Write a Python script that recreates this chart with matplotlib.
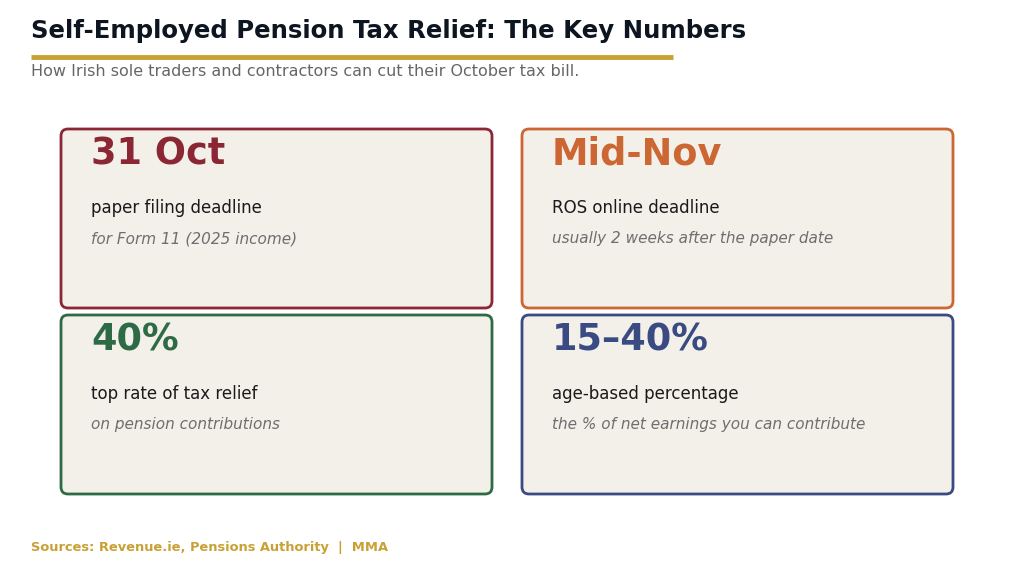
import matplotlib
matplotlib.use("Agg")
import matplotlib.pyplot as plt
from matplotlib.patches import FancyBboxPatch

plt.rcParams['font.family'] = ['DejaVu Sans']

# Contenido de las tarjetas
big_values = ["31 Oct", "Mid-Nov", "40%", "15\u201340%"]
labels = ["paper filing deadline", "ROS online deadline",
          "top rate of tax relief", "age-based percentage"]
notes = ["for Form 11 (2025 income)", "usually 2 weeks after the paper date",
         "on pension contributions", "the % of net earnings you can contribute"]
colors = ["#8B2635", "#CC6633", "#2D6A45", "#3A4A82"]

title = "Self-Employed Pension Tax Relief: The Key Numbers"
subtitle = "How Irish sole traders and contractors can cut their October tax bill."
footer = "Sources: Revenue.ie, Pensions Authority  |  MMA"

gold = "#C9A033"

fig = plt.figure(figsize=(10.24, 5.84), dpi=100)
ax = fig.add_axes([0, 0, 1, 1])
ax.set_xlim(0, 1024)
ax.set_ylim(584, 0)
ax.axis("off")

# Cabecera
ax.text(31, 31, title, fontsize=17.6, fontweight="bold", color="#0D1520",
        va="center", ha="left")
ax.plot([31, 673], [57, 57], color=gold, lw=3.5, solid_capstyle="butt")
ax.text(31, 71, subtitle, fontsize=11.5, color="#666666", va="center", ha="left")

# Tarjetas 2x2
card_x = [61, 522]
card_y = [129, 315]
card_w, card_h = 431, 179
for i in range(4):
    x0 = card_x[i % 2]
    y0 = card_y[i // 2]
    box = FancyBboxPatch((x0, y0), card_w, card_h,
                         boxstyle="round,pad=0,rounding_size=7",
                         facecolor="#F3F0EA", edgecolor=colors[i], lw=2)
    ax.add_patch(box)
    ax.text(x0 + 30, y0 + 25, big_values[i], fontsize=26.4, fontweight="bold",
            color=colors[i], va="center", ha="left")
    ax.text(x0 + 30, y0 + 79, labels[i], fontsize=12, color="#1A1A1A",
            va="center", ha="left")
    ax.text(x0 + 30, y0 + 110, notes[i], fontsize=11, style="italic",
            color="#6E6E6E", va="center", ha="left")

# Pie
ax.text(31, 548, footer, fontsize=9.4, fontweight="bold", color=gold,
        va="center", ha="left")

fig.savefig("out.png", dpi=100, facecolor="white")
